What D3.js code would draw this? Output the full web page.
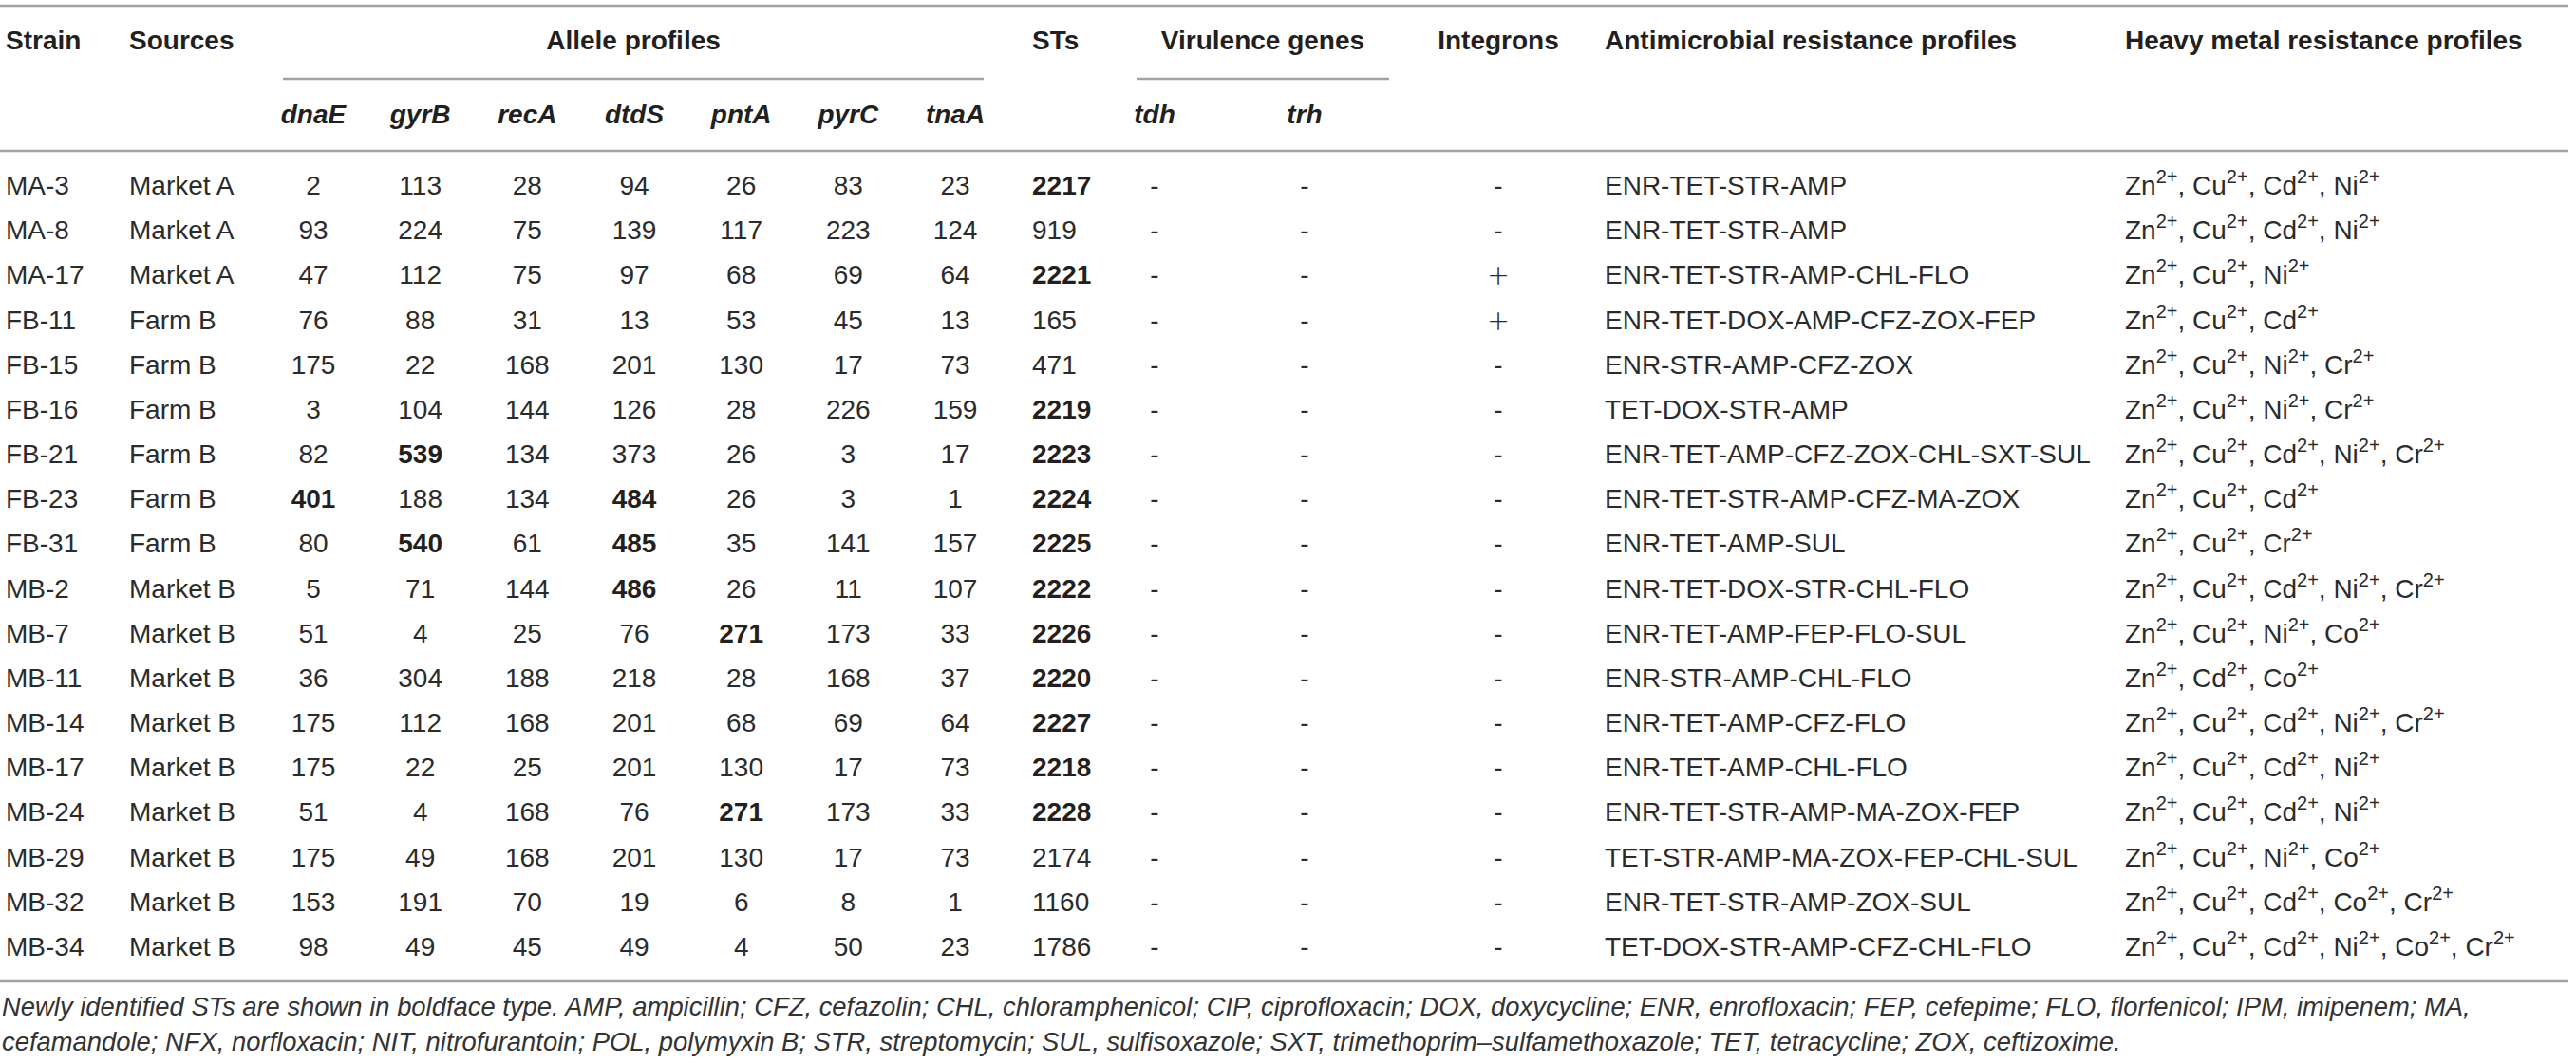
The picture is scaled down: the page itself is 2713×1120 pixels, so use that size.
<!DOCTYPE html>
<html><head><meta charset="utf-8">
<script src="https://cdn.jsdelivr.net/npm/d3@7"></script>
<style>html,body{margin:0;padding:0;background:#fff;} svg{display:block;}</style>
</head><body>
<script>
const strains = ["MA-3","MA-8","MA-17","FB-11","FB-15","FB-16","FB-21","FB-23","FB-31","MB-2","MB-7","MB-11","MB-14","MB-17","MB-24","MB-29","MB-32","MB-34"];
const sources = ["Market A","Market A","Market A","Farm B","Farm B","Farm B","Farm B","Farm B","Farm B","Market B","Market B","Market B","Market B","Market B","Market B","Market B","Market B","Market B"];
const genes = ["dnaE","gyrB","recA","dtdS","pntA","pyrC","tnaA"];
const dnaE = [2,93,47,76,175,3,82,401,80,5,51,36,175,175,51,175,153,98];
const gyrB = [113,224,112,88,22,104,539,188,540,71,4,304,112,22,4,49,191,49];
const recA = [28,75,75,31,168,144,134,134,61,144,25,188,168,25,168,168,70,45];
const dtdS = [94,139,97,13,201,126,373,484,485,486,76,218,201,201,76,201,19,49];
const pntA = [26,117,68,53,130,28,26,26,35,26,271,28,68,130,271,130,6,4];
const pyrC = [83,223,69,45,17,226,3,3,141,11,173,168,69,17,173,17,8,50];
const tnaA = [23,124,64,13,73,159,17,1,157,107,33,37,64,73,33,73,1,23];
// new alleles shown bold: [row, gene]
const newAlleles = [["FB-21","gyrB"],["FB-23","dnaE"],["FB-23","dtdS"],["FB-31","gyrB"],["FB-31","dtdS"],["MB-2","dtdS"],["MB-7","pntA"],["MB-24","pntA"]];
const sts = [2217,919,2221,165,471,2219,2223,2224,2225,2222,2226,2220,2227,2218,2228,2174,1160,1786];
const newSTs = [2217,2221,2219,2223,2224,2225,2222,2226,2220,2227,2218,2228];
const tdh = ["-","-","-","-","-","-","-","-","-","-","-","-","-","-","-","-","-","-"];
const trh = ["-","-","-","-","-","-","-","-","-","-","-","-","-","-","-","-","-","-"];
const integrons = ["-","-","+","+","-","-","-","-","-","-","-","-","-","-","-","-","-","-"];
const amr = ["ENR-TET-STR-AMP","ENR-TET-STR-AMP","ENR-TET-STR-AMP-CHL-FLO","ENR-TET-DOX-AMP-CFZ-ZOX-FEP","ENR-STR-AMP-CFZ-ZOX","TET-DOX-STR-AMP","ENR-TET-AMP-CFZ-ZOX-CHL-SXT-SUL","ENR-TET-STR-AMP-CFZ-MA-ZOX","ENR-TET-AMP-SUL","ENR-TET-DOX-STR-CHL-FLO","ENR-TET-AMP-FEP-FLO-SUL","ENR-STR-AMP-CHL-FLO","ENR-TET-AMP-CFZ-FLO","ENR-TET-AMP-CHL-FLO","ENR-TET-STR-AMP-MA-ZOX-FEP","TET-STR-AMP-MA-ZOX-FEP-CHL-SUL","ENR-TET-STR-AMP-ZOX-SUL","TET-DOX-STR-AMP-CFZ-CHL-FLO"];
const metals = [["Zn","Cu","Cd","Ni"],["Zn","Cu","Cd","Ni"],["Zn","Cu","Ni"],["Zn","Cu","Cd"],["Zn","Cu","Ni","Cr"],["Zn","Cu","Ni","Cr"],["Zn","Cu","Cd","Ni","Cr"],["Zn","Cu","Cd"],["Zn","Cu","Cr"],["Zn","Cu","Cd","Ni","Cr"],["Zn","Cu","Ni","Co"],["Zn","Cd","Co"],["Zn","Cu","Cd","Ni","Cr"],["Zn","Cu","Cd","Ni"],["Zn","Cu","Cd","Ni"],["Zn","Cu","Ni","Co"],["Zn","Cu","Cd","Co","Cr"],["Zn","Cu","Cd","Ni","Co","Cr"]];
const headers1 = ["Strain","Sources","Allele profiles","STs","Virulence genes","Integrons","Antimicrobial resistance profiles","Heavy metal resistance profiles"];
const virGenes = ["tdh","trh"];
const footnote = ["Newly identified STs are shown in boldface type. AMP, ampicillin; CFZ, cefazolin; CHL, chloramphenicol; CIP, ciprofloxacin; DOX, doxycycline; ENR, enrofloxacin; FEP, cefepime; FLO, florfenicol; IPM, imipenem; MA,",
"cefamandole; NFX, norfloxacin; NIT, nitrofurantoin; POL, polymyxin B; STR, streptomycin; SUL, sulfisoxazole; SXT, trimethoprim\u2013sulfamethoxazole; TET, tetracycline; ZOX, ceftizoxime."];

const alleleCols = {dnaE, gyrB, recA, dtdS, pntA, pyrC, tnaA};

const W = 2713, H = 1120;
const FONT = "'Liberation Sans', Arial, Helvetica, sans-serif";
const TXT = "#231f20", BODY = "#2b2b2b", LINE = "#a3a3a3";
const svg = d3.select("body").append("svg").attr("width", W).attr("height", H)
  .style("font-family", FONT);

const y = d3.scalePoint().domain(strains).range([205, 1007]);
const xGene = d3.scalePoint().domain(genes).range([330, 1006]);
const xVir = d3.scalePoint().domain(virGenes).range([1216, 1374]);
const xCol = {strain: 6, source: 136, st: 1087, integron: 1578, amr: 1690, metal: 2238};

// rules
const hline = (x1, x2, yy) => svg.append("line").attr("x1", x1).attr("x2", x2).attr("y1", yy).attr("y2", yy)
  .attr("stroke", LINE).attr("stroke-width", 2.6);
hline(0, 2705, 6);
hline(298, 1036, 83);
hline(1197, 1463, 83);
hline(0, 2705, 159);
hline(0, 2705, 1034);

// header row 1
const h1 = [
  {t: headers1[0], x: xCol.strain, a: "start"},
  {t: headers1[1], x: xCol.source, a: "start"},
  {t: headers1[2], x: 667, a: "middle"},
  {t: headers1[3], x: xCol.st, a: "start"},
  {t: headers1[4], x: 1330, a: "middle"},
  {t: headers1[5], x: xCol.integron, a: "middle"},
  {t: headers1[6], x: xCol.amr, a: "start"},
  {t: headers1[7], x: xCol.metal, a: "start"}
];
svg.selectAll("text.h1").data(h1).join("text").attr("class", "h1")
  .attr("x", d => d.x).attr("y", 52).attr("text-anchor", d => d.a)
  .attr("font-size", 28).attr("font-weight", "bold").attr("fill", TXT).text(d => d.t);

// header row 2
svg.selectAll("text.g").data(genes).join("text").attr("class", "g")
  .attr("x", d => xGene(d)).attr("y", 130).attr("text-anchor", "middle")
  .attr("font-size", 28).attr("font-weight", "bold").attr("font-style", "italic").attr("fill", TXT).text(d => d);
svg.selectAll("text.v").data(virGenes).join("text").attr("class", "v")
  .attr("x", d => xVir(d)).attr("y", 130).attr("text-anchor", "middle")
  .attr("font-size", 28).attr("font-weight", "bold").attr("font-style", "italic").attr("fill", TXT).text(d => d);

// body
const body = svg.append("g").attr("font-size", 28).attr("fill", BODY);
const rowG = body.selectAll("g.row").data(strains).join("g").attr("class", "row")
  .attr("transform", d => `translate(0,${y(d)})`);

rowG.append("text").attr("x", xCol.strain).text(d => d);
rowG.append("text").attr("x", xCol.source).text((d, i) => sources[i]);
genes.forEach(g => {
  rowG.append("text").attr("x", xGene(g)).attr("text-anchor", "middle")
    .attr("font-weight", (d) => newAlleles.some(p => p[0] === d && p[1] === g) ? "bold" : "normal")
    .attr("fill", (d) => newAlleles.some(p => p[0] === d && p[1] === g) ? TXT : BODY)
    .text((d, i) => alleleCols[g][i]);
});
rowG.append("text").attr("x", xCol.st)
  .attr("font-weight", (d, i) => newSTs.includes(sts[i]) ? "bold" : "normal")
  .attr("fill", (d, i) => newSTs.includes(sts[i]) ? TXT : BODY)
  .text((d, i) => sts[i]);
rowG.append("text").attr("x", xVir("tdh")).attr("text-anchor", "middle").text((d, i) => tdh[i]);
rowG.append("text").attr("x", xVir("trh")).attr("text-anchor", "middle").text((d, i) => trh[i]);
rowG.append("text").attr("x", xCol.integron).attr("text-anchor", "middle")
  .attr("font-family", (d, i) => integrons[i] === "+" ? "Lato, 'Open Sans', sans-serif" : null)
  .attr("font-weight", (d, i) => integrons[i] === "+" ? 300 : null)
  .attr("font-size", (d, i) => integrons[i] === "+" ? 38 : null)
  .attr("dy", (d, i) => integrons[i] === "+" ? 4 : 0)
  .text((d, i) => integrons[i]);
rowG.append("text").attr("x", xCol.amr).text((d, i) => amr[i]);
rowG.each(function(d, i) {
  const t = d3.select(this).append("text").attr("x", xCol.metal);
  metals[i].forEach((m, k) => {
    t.append("tspan").attr("dy", k === 0 ? 0 : 12).text((k === 0 ? "" : ", ") + m);
    t.append("tspan").attr("dy", -12).attr("font-size", 20).text("2+");
  });
});

// footnote
svg.selectAll("text.fn").data(footnote).join("text").attr("class", "fn")
  .attr("x", 2).attr("y", (d, i) => 1070 + i * 37)
  .attr("font-size", 27.4).attr("font-style", "italic").attr("fill", "#333").text(d => d);
</script>
</body></html>
